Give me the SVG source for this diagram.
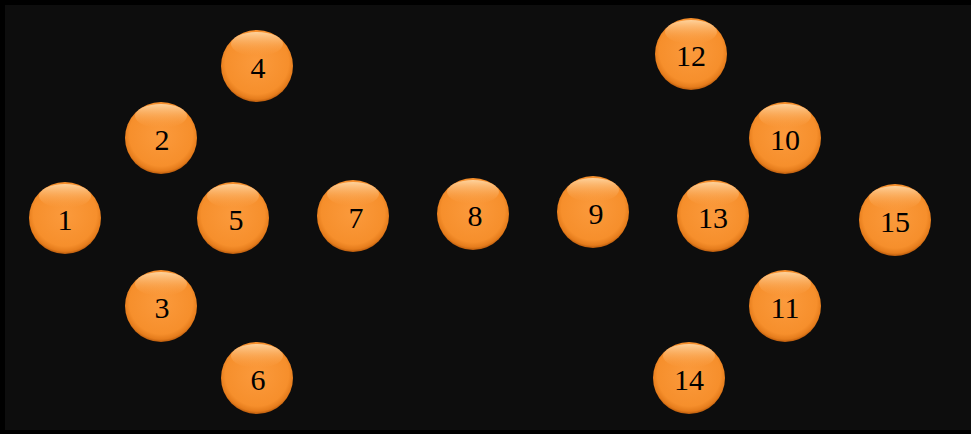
<svg xmlns="http://www.w3.org/2000/svg" width="971" height="434" viewBox="0 0 971 434">
<defs>
<radialGradient id="ball" cx="50%" cy="45%" r="55%">
<stop offset="0" stop-color="#fb9a3c"/>
<stop offset="0.8" stop-color="#f68f2c"/>
<stop offset="0.93" stop-color="#e57c1c"/>
<stop offset="1" stop-color="#b85a0c"/>
</radialGradient>
<linearGradient id="hl" x1="0" y1="0" x2="0" y2="1">
<stop offset="0" stop-color="#ffd9a8" stop-opacity="0.9"/>
<stop offset="1" stop-color="#fba24a" stop-opacity="0"/>
</linearGradient>
<g id="b">
<circle r="36" fill="url(#ball)"/>
<ellipse cx="0" cy="-22" rx="26" ry="12" fill="url(#hl)"/>
</g>
</defs>
<style>
.t{font-family:"Liberation Serif","Times New Roman",serif;font-size:30px;fill:#000;text-anchor:middle;dominant-baseline:central}
</style>
<rect x="0" y="0" width="971" height="434" fill="#000"/>
<rect x="5" y="5" width="966" height="425" fill="#0d0d0d"/>
<g id="connectors"></g>
<g id="n1"><use href="#b" x="65" y="218"/><text class="t" x="65" y="219">1</text></g>
<g id="n2"><use href="#b" x="161" y="138"/><text class="t" x="162" y="139">2</text></g>
<g id="n3"><use href="#b" x="161" y="306"/><text class="t" x="162" y="307">3</text></g>
<g id="n4"><use href="#b" x="257" y="66"/><text class="t" x="258" y="67">4</text></g>
<g id="n5"><use href="#b" x="233" y="218"/><text class="t" x="236" y="219">5</text></g>
<g id="n6"><use href="#b" x="257" y="378"/><text class="t" x="258" y="379">6</text></g>
<g id="n7"><use href="#b" x="353" y="216"/><text class="t" x="356" y="217">7</text></g>
<g id="n8"><use href="#b" x="473" y="214"/><text class="t" x="475" y="215">8</text></g>
<g id="n9"><use href="#b" x="593" y="212"/><text class="t" x="596" y="213">9</text></g>
<g id="n10"><use href="#b" x="785" y="138"/><text class="t" x="785" y="139">10</text></g>
<g id="n11"><use href="#b" x="785" y="306"/><text class="t" x="785" y="307">11</text></g>
<g id="n12"><use href="#b" x="691" y="54"/><text class="t" x="691" y="55">12</text></g>
<g id="n13"><use href="#b" x="713" y="216"/><text class="t" x="713" y="217">13</text></g>
<g id="n14"><use href="#b" x="689" y="378"/><text class="t" x="689" y="379">14</text></g>
<g id="n15"><use href="#b" x="895" y="220"/><text class="t" x="895" y="221">15</text></g>
</svg>
